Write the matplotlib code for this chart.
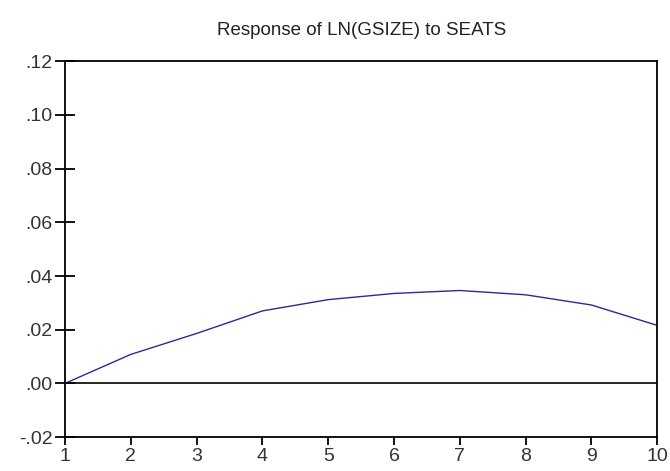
import numpy as np
import matplotlib
matplotlib.use("Agg")
import matplotlib.pyplot as plt

plt.rcParams['font.family'] = ['Liberation Sans', 'DejaVu Sans']

# impulse response
periods = [1, 2, 3, 4, 5, 6, 7, 8, 9, 10]
response = [0.0, 0.0108, 0.0186, 0.0270, 0.0312, 0.0335, 0.0346, 0.0330, 0.0292, 0.0216]
yticks = [-0.02, 0.00, 0.02, 0.04, 0.06, 0.08, 0.10, 0.12]
ylabels = ['-.02', '.00', '.02', '.04', '.06', '.08', '.10', '.12']

fig = plt.figure(figsize=(6.7, 4.71), dpi=100)
ax = fig.add_axes([0.097, 0.072, 0.884, 0.798])

ax.plot(periods, response, color='#2a2a9c', lw=1.0)
ax.axhline(0, color='black', lw=1.2)

ax.set_xlim(1, 10)
ax.set_ylim(-0.02, 0.12)
ax.set_xticks(periods)
ax.set_yticks(yticks)
ax.set_yticklabels(ylabels)

for s in ax.spines.values():
    s.set_linewidth(1.3)
ax.tick_params(axis='y', direction='inout', length=14, width=1.3, labelsize=14,
               pad=2, right=False, labelcolor='#333333')
ax.tick_params(axis='x', direction='out', length=6, width=1.3, labelsize=14,
               pad=2, top=False, labelcolor='#333333')

ax.set_title('Response of LN(GSIZE) to SEATS', fontsize=13.5, pad=19, color='#222222')

fig.savefig('out.png', dpi=100)
